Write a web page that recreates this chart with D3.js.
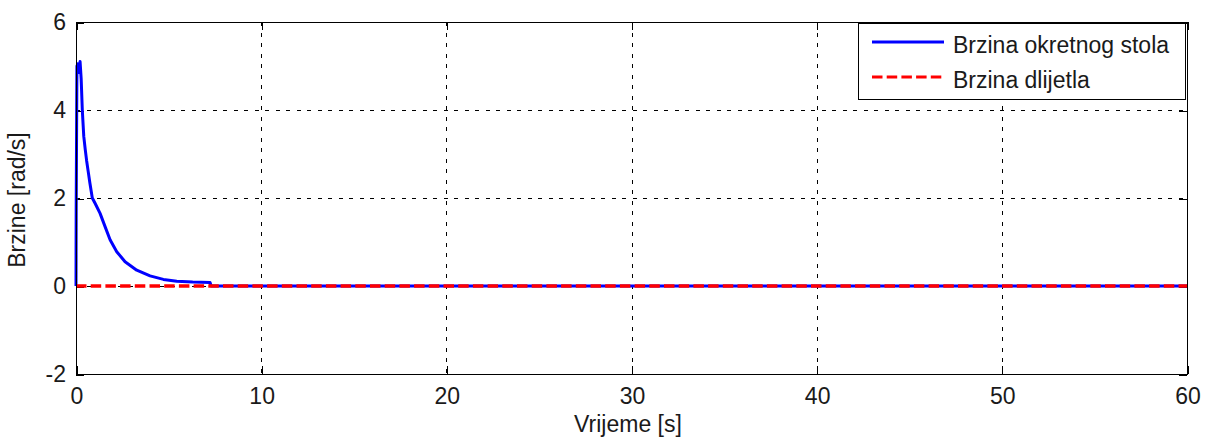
<!DOCTYPE html>
<html><head><meta charset="utf-8">
<script src="https://cdn.jsdelivr.net/npm/d3@7"></script>
<style>body{margin:0;background:#fff}svg{display:block}text{font-family:"Liberation Sans",Arial,sans-serif;fill:#1a1a1a}</style>
</head><body>
<svg id="c" width="1208" height="437"></svg>
<script>
// data
const timeTable = [0, 0.01, 0.05, 0.1, 0.15, 0.22, 0.28, 0.34, 0.42, 0.5, 0.57, 0.66, 0.75, 0.88, 1.03, 1.3, 1.57, 1.84, 2.2, 2.65, 3.28, 4.0, 4.72, 5.44, 6.3, 7.24, 7.3, 60];
const speedTable = [0, 1.7, 5.0, 5.05, 4.85, 5.1, 4.7, 4.0, 3.4, 3.1, 2.86, 2.6, 2.34, 2.0, 1.88, 1.65, 1.35, 1.05, 0.78, 0.55, 0.36, 0.23, 0.15, 0.11, 0.09, 0.08, 0, 0];
const toolTime = [0, 60];
const toolSpeed = [0, 0];
const xTicks = [0, 10, 20, 30, 40, 50, 60];
const yTicks = [-2, 0, 2, 4, 6];
const seriesNames = ["Brzina okretnog stola", "Brzina dlijetla"];
const xLabel = "Vrijeme [s]";
const yLabel = "Brzine [rad/s]";

const svg = d3.select("#c");
const L = 76, R = 1187, T = 22, B = 374;
const x = d3.scaleLinear().domain([0, 60]).range([L, R]);
const y = d3.scaleLinear().domain([-2, 6]).range([B, T]);
const px = v => Math.round(v) + 0.5;

// grid
const g = svg.append("g").attr("shape-rendering", "crispEdges");
g.selectAll(".gx").data(xTicks.slice(1, -1)).join("line")
  .attr("x1", d => px(x(d))).attr("x2", d => px(x(d))).attr("y1", T).attr("y2", B)
  .attr("stroke", "#000").attr("stroke-dasharray", "4,6.5").attr("stroke-width", 1);
g.selectAll(".gy").data(yTicks.slice(1, -1)).join("line")
  .attr("y1", d => px(y(d))).attr("y2", d => px(y(d))).attr("x1", L).attr("x2", R)
  .attr("stroke", "#000").attr("stroke-dasharray", "4,6.5").attr("stroke-width", 1);

// axes with inward ticks
const tl = 8;
const fmt = d => String(d);
const axB = d3.axisBottom(x).tickValues(xTicks).tickSize(-tl).tickPadding(14).tickFormat(fmt);
const axT = d3.axisTop(x).tickValues(xTicks).tickSize(-tl).tickFormat("");
const axL = d3.axisLeft(y).tickValues(yTicks).tickSize(-tl).tickPadding(10).tickFormat(fmt);
const axR = d3.axisRight(y).tickValues(yTicks).tickSize(-tl).tickFormat("");
function style(sel){ sel.select(".domain").remove(); sel.selectAll("line").attr("stroke","#000").attr("shape-rendering","crispEdges");
  sel.selectAll("text").style("font-size","23px").attr("fill","#1a1a1a"); }
svg.append("g").attr("transform", `translate(0.5,${B})`).call(axB).call(style);
svg.append("g").attr("transform", `translate(0.5,${T})`).call(axT).call(style);
svg.append("g").attr("transform", `translate(${L},0.5)`).call(axL).call(style);
svg.append("g").attr("transform", `translate(${R},0.5)`).call(axR).call(style);

// lines
const line = d3.line().x(d => x(d[0])).y(d => y(d[1]));
svg.append("path").datum(timeTable.map((t, i) => [t, speedTable[i]]))
  .attr("d", line).attr("fill", "none").attr("stroke", "#0000ff").attr("stroke-width", 3).attr("stroke-linejoin","round");
svg.append("path").datum(toolTime.map((t, i) => [t, toolSpeed[i]]))
  .attr("d", line).attr("fill", "none").attr("stroke", "#ff0000").attr("stroke-width", 3.5).attr("stroke-dasharray", "10.5,4.2");

// frame
svg.append("rect").attr("x", L + 0.5).attr("y", T + 0.5).attr("width", R - L).attr("height", B - T)
  .attr("fill", "none").attr("stroke", "#000").attr("stroke-width", 1.5).attr("shape-rendering","crispEdges");

// labels
svg.append("text").attr("x", 628).attr("y", 432).attr("text-anchor", "middle")
  .style("font-size", "23px").text(xLabel);
svg.append("text").attr("transform", `translate(25,${(T + B) / 2 + 2}) rotate(-90)`).attr("text-anchor", "middle")
  .style("font-size", "23px").text(yLabel);

// legend
const lg = svg.append("g");
lg.append("rect").attr("x", 858.5).attr("y", 23.5).attr("width", 327).attr("height", 76)
  .attr("fill", "#fff").attr("stroke", "#000").attr("stroke-width", 1.5).attr("shape-rendering","crispEdges");
const colors = ["#0000ff", "#ff0000"], dashes = [null, "10.5,4.2"], ys = [42, 77];
seriesNames.forEach((n, i) => {
  lg.append("line").attr("x1", 872).attr("x2", 944).attr("y1", ys[i]).attr("y2", ys[i])
    .attr("stroke", colors[i]).attr("stroke-width", 3).attr("stroke-dasharray", dashes[i]);
  lg.append("text").attr("x", 953).attr("y", ys[i] + 11).style("font-size", "23px").text(n);
});
</script>
</body></html>
